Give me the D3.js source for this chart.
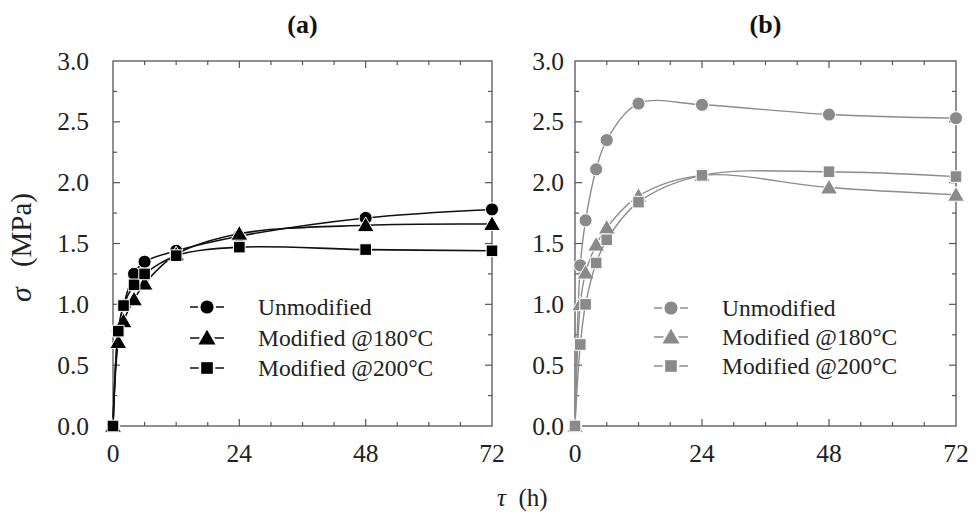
<!DOCTYPE html>
<html><head><meta charset="utf-8">
<script src="https://cdn.jsdelivr.net/npm/d3@7/dist/d3.min.js"></script>
<style>
html,body{margin:0;padding:0;background:#fff;}
text{font-family:"Liberation Serif","Times New Roman",serif;}
</style></head>
<body><svg id="chart" width="979" height="516"></svg>
<script>
// ---- data ----
const hours = [0, 1, 2, 4, 6, 12, 24, 48, 72];
const seriesNames = ["Unmodified", "Modified @180°C", "Modified @200°C"];
const aUnmodified = [0, 0.78, 0.99, 1.25, 1.35, 1.44, 1.56, 1.71, 1.78];
const aMod180 = [0, 0.69, 0.86, 1.04, 1.17, 1.41, 1.58, 1.65, 1.66];
const aMod200 = [0, 0.78, 0.99, 1.16, 1.25, 1.40, 1.47, 1.45, 1.44];
const bUnmodified = [0, 1.32, 1.69, 2.11, 2.35, 2.65, 2.64, 2.56, 2.53];
const bMod180 = [0, 1.00, 1.26, 1.49, 1.63, 1.89, 2.06, 1.96, 1.90];
const bMod200 = [0, 0.67, 1.00, 1.34, 1.53, 1.84, 2.06, 2.09, 2.05];
const xTicks = [0, 24, 48, 72];
const yTicks = [0, 0.5, 1.0, 1.5, 2.0, 2.5, 3.0];
const panelTitles = ["(a)", "(b)"];

const svg = d3.select("#chart");
const axisColor = "#555";
const symbols = [d3.symbolCircle, d3.symbolTriangle, d3.symbolSquare];
const symSizes = [135, 125, 135];

function panel(cfg) {
  const x = d3.scaleLinear().domain([0, 72]).range([cfg.x0, cfg.x1]);
  const y = d3.scaleLinear().domain([0, 3]).range([426, 61]);
  const g = svg.append("g");

  // frame
  g.append("rect").attr("x", cfg.x0).attr("y", 61)
    .attr("width", cfg.x1 - cfg.x0).attr("height", 426 - 61)
    .attr("fill", "none").attr("stroke", axisColor).attr("stroke-width", 1.3);

  // ticks
  const xt = d3.range(0, 73, 6), yt = d3.range(0, 3.001, 0.25);
  xt.forEach(v => {
    const L = v % 24 === 0 ? 7 : 4;
    if (v === 0 || v === 72) return;
    g.append("line").attr("x1", x(v)).attr("x2", x(v)).attr("y1", 426).attr("y2", 426 - L).attr("stroke", axisColor).attr("stroke-width", 1.2);
    g.append("line").attr("x1", x(v)).attr("x2", x(v)).attr("y1", 61).attr("y2", 61 + L).attr("stroke", axisColor).attr("stroke-width", 1.2);
  });
  yt.forEach(v => {
    const L = Math.abs(v * 2 - Math.round(v * 2)) < 1e-6 ? 7 : 4;
    if (v === 0 || v > 2.99) return;
    g.append("line").attr("y1", y(v)).attr("y2", y(v)).attr("x1", cfg.x0).attr("x2", cfg.x0 + L).attr("stroke", axisColor).attr("stroke-width", 1.2);
    g.append("line").attr("y1", y(v)).attr("y2", y(v)).attr("x1", cfg.x1).attr("x2", cfg.x1 - L).attr("stroke", axisColor).attr("stroke-width", 1.2);
  });

  // tick labels
  g.selectAll(".xl").data(xTicks).enter().append("text")
    .attr("x", d => x(d)).attr("y", 462).attr("text-anchor", "middle")
    .attr("font-size", 25.5).attr("fill", "#222").text(d => d);
  g.selectAll(".yl").data(yTicks).enter().append("text")
    .attr("x", cfg.x0 - cfg.labOff).attr("y", d => y(d) + 8.5).attr("text-anchor", "end")
    .attr("font-size", 25.5).attr("fill", "#222").text(d => d.toFixed(1));

  // title
  g.append("text").attr("x", (cfg.x0 + cfg.x1) / 2).attr("y", 33).attr("text-anchor", "middle")
    .attr("font-size", 26).attr("font-weight", "bold").attr("fill", "#111").text(cfg.title);

  const line = d3.line().x(d => x(d[0])).y(d => y(d[1])).curve(d3.curveCatmullRom.alpha(0.5));
  cfg.series.forEach((vals, i) => {
    const pts = hours.map((h, k) => [h, vals[k]]);
    g.append("path").attr("d", line(pts)).attr("fill", "none")
      .attr("stroke", cfg.lineColor).attr("stroke-width", cfg.lineWidth);
    g.selectAll(null).data(pts).enter().append("path")
      .attr("d", d3.symbol().type(symbols[i]).size(symSizes[i]))
      .attr("transform", d => `translate(${x(d[0])},${y(d[1]) + (i === 1 ? 1.5 : 0)})`)
      .attr("fill", cfg.markColor).attr("stroke", "#fff").attr("stroke-width", 1);
  });

  // legend
  seriesNames.forEach((name, i) => {
    const ly = cfg.legY[i];
    g.append("line").attr("x1", cfg.legX - 17).attr("x2", cfg.legX + 17).attr("y1", ly).attr("y2", ly)
      .attr("stroke", cfg.lineColor).attr("stroke-width", cfg.lineWidth);
    g.append("path").attr("d", d3.symbol().type(symbols[i]).size(symSizes[i]))
      .attr("transform", `translate(${cfg.legX},${ly + (i === 1 ? 1.5 : 0)})`)
      .attr("fill", cfg.markColor).attr("stroke", "#fff").attr("stroke-width", 5).attr("paint-order", "stroke");
    g.append("text").attr("x", cfg.legX + 51).attr("y", ly + 8).attr("font-size", 23.5)
      .attr("fill", "#222").text(name);
  });
}

panel({x0: 113, x1: 492, labOff: 24, title: panelTitles[0],
  series: [aUnmodified, aMod180, aMod200], lineColor: "#111", markColor: "#000", lineWidth: 1.6,
  legX: 207, legY: [307, 338, 368]});
panel({x0: 575, x1: 956, labOff: 11, title: panelTitles[1],
  series: [bUnmodified, bMod180, bMod200], lineColor: "#8c8c8c", markColor: "#8a8a8a", lineWidth: 1.4,
  legX: 671, legY: [308, 337, 366]});

// axis labels
const yl = svg.append("g").attr("transform", "translate(31,302) rotate(-90)");
yl.append("text").attr("x", 0).attr("y", 0).attr("font-size", 30).attr("font-style", "italic")
  .attr("fill", "#222").text("σ");
yl.append("text").attr("x", 109).attr("y", 0).attr("text-anchor", "end").attr("font-size", 29)
  .attr("fill", "#222").text("(MPa)");
svg.append("text").attr("x", 497).attr("y", 506).attr("font-size", 25).attr("fill", "#222")
  .attr("xml:space", "preserve")
  .html('<tspan font-style="italic">τ</tspan>  (h)');
</script></body></html>
